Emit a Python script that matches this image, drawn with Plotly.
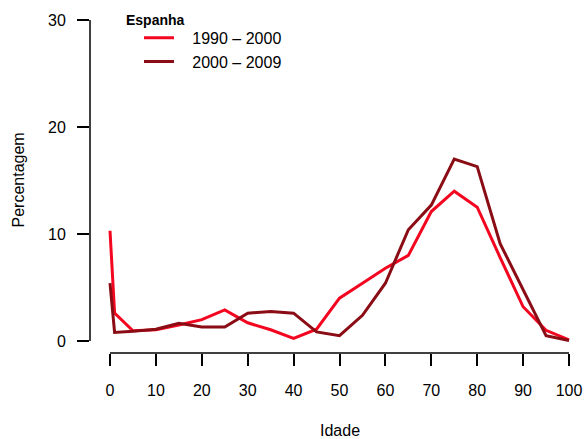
import plotly.graph_objects as go

# Age groups (years) and share of deaths (%) for each period
idade = [0, 1, 5, 10, 15, 20, 25, 30, 35, 40, 45, 50, 55, 60, 65, 70, 75, 80, 85, 90, 95, 100]
p1990_2000 = [10.3, 2.6, 0.95, 1.05, 1.5, 2.0, 2.9, 1.7, 1.05, 0.25, 1.1, 4.0, 5.4, 6.8, 8.0, 12.1, 14.0, 12.5, 7.8, 3.2, 1.0, 0.1]
p2000_2009 = [5.4, 0.8, 0.9, 1.1, 1.65, 1.3, 1.3, 2.6, 2.75, 2.6, 0.85, 0.5, 2.4, 5.4, 10.4, 12.7, 17.0, 16.3, 9.1, 4.8, 0.5, 0.05]

x_ticks = list(range(0, 101, 10))
y_ticks = [0, 10, 20, 30]

series_names = ["1990 \u2013 2000", "2000 \u2013 2009"]
series_colors = ["#f3061f", "#8a0c14"]

FONT = "Liberation Sans, Arial, Helvetica, sans-serif"
NBSP = "\u00a0"

fig = go.Figure()
for name, vals, col in zip(series_names, [p1990_2000, p2000_2009], series_colors):
    fig.add_trace(go.Scatter(
        x=idade, y=vals, mode="lines", name=NBSP * 3 + name,
        line=dict(color=col, width=3),
    ))

axis_common = dict(
    showgrid=False, zeroline=False, showline=False, automargin=False,
    ticks="outside", ticklen=12, tickwidth=1.5, tickcolor="black",
    tickfont=dict(family=FONT, size=16, color="black"),
)

fig.update_layout(
    width=584, height=439,
    margin=dict(l=90, r=9, t=15, b=86, autoexpand=False),
    paper_bgcolor="white", plot_bgcolor="white",
    font=dict(family=FONT, size=16, color="black"),
    xaxis=dict(range=[-4.357, 101.307], tickvals=x_ticks, ticklabelstandoff=11, **axis_common),
    yaxis=dict(range=[-1.121, 30.467], tickvals=y_ticks, ticklabelstandoff=8, **axis_common),
    showlegend=True,
    legend=dict(
        x=0.101, y=0.983, xanchor="left", yanchor="top",
        bgcolor="rgba(0,0,0,0)", borderwidth=0,
        font=dict(family=FONT, size=16, color="black"),
        itemwidth=30, tracegroupgap=0,
    ),
)

# R-style detached axis lines spanning first to last tick
fig.add_shape(type="line", xref="x", yref="paper", x0=x_ticks[0], x1=x_ticks[-1], y0=0, y1=0,
              line=dict(color="black", width=1.5))
fig.add_shape(type="line", xref="paper", yref="y", x0=0, x1=0, y0=y_ticks[0], y1=y_ticks[-1],
              line=dict(color="black", width=1.5))

# Axis titles and legend heading
fig.add_annotation(text="Idade", xref="x", yref="paper", x=50, y=0, yshift=-77,
                   showarrow=False, yanchor="middle", font=dict(family=FONT, size=16))
fig.add_annotation(text="Percentagem", xref="paper", yref="y", x=0, y=15, xshift=-72,
                   showarrow=False, textangle=-90, xanchor="center", font=dict(family=FONT, size=16))
fig.add_annotation(text="<b>Espanha</b>", xref="paper", yref="paper", x=0, y=1, xshift=34, yshift=-5,
                   showarrow=False, xanchor="left", yanchor="middle", font=dict(family=FONT, size=14))

fig.write_html("out.html")
